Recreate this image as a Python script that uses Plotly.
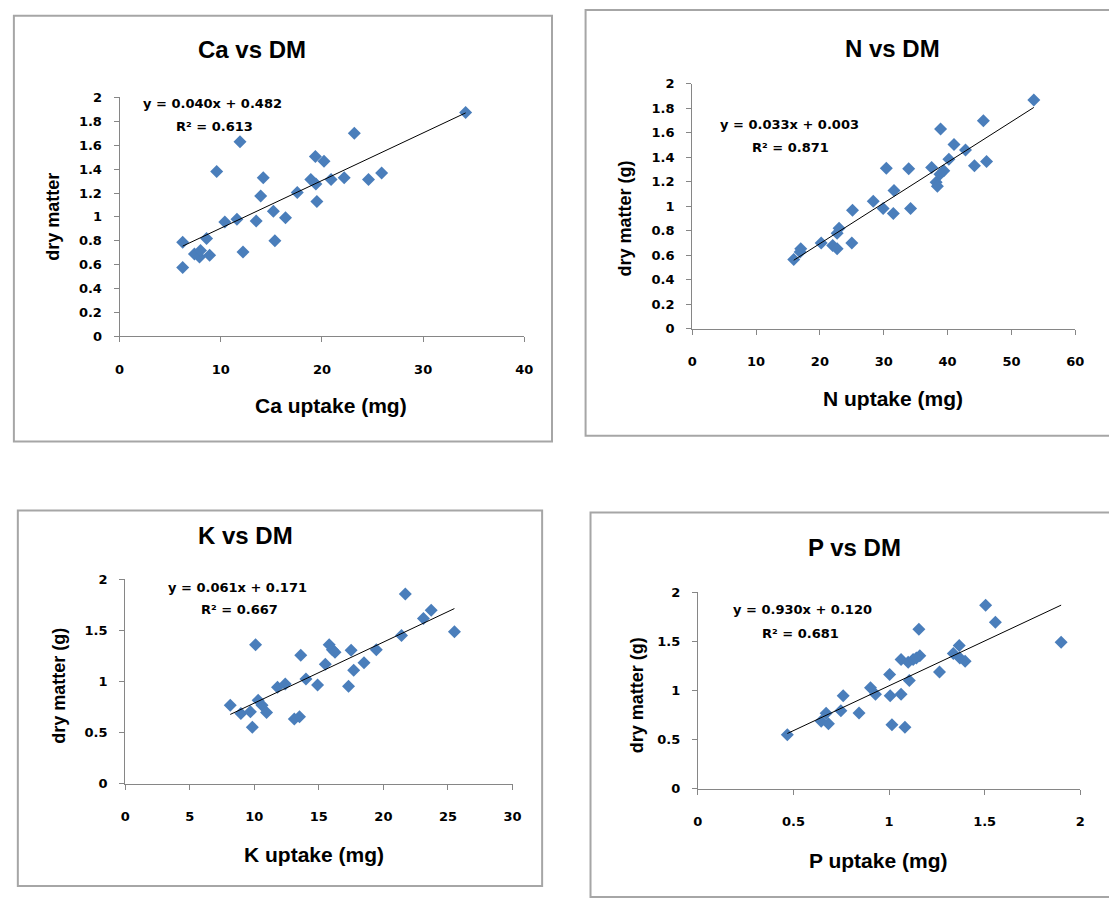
import numpy as np
import plotly.graph_objects as go

W, H = 1109, 898

# ---------------- data ----------------
ca_x = [34.2, 23.2, 11.9, 9.6, 19.35, 20.2, 14.2, 18.9, 19.4, 20.9, 22.2, 24.6, 25.9, 13.95, 17.56,
        19.5, 15.2, 16.4, 10.4, 11.6, 13.5, 15.35, 12.2, 6.24, 6.24, 8.6, 7.4, 7.9, 8.0, 8.9]
ca_y = [1.874, 1.70, 1.63, 1.38, 1.505, 1.466, 1.327, 1.313, 1.275, 1.313, 1.327, 1.313, 1.368, 1.176, 1.204,
        1.13, 1.048, 0.993, 0.958, 0.98, 0.966, 0.80, 0.706, 0.788, 0.577, 0.82, 0.69, 0.665, 0.72, 0.68]

n_x = [53.5, 45.6, 38.9, 41.0, 42.8, 40.2, 44.2, 46.1, 37.5, 39.4, 38.8, 38.2, 38.4, 30.4, 33.9,
       31.6, 28.35, 29.9, 31.5, 34.2, 25.1, 23.0, 22.7, 20.2, 22.0, 22.7, 25.0, 17.0, 16.9, 15.9]
n_y = [1.866, 1.697, 1.63, 1.503, 1.458, 1.383, 1.329, 1.364, 1.315, 1.289, 1.26, 1.195, 1.162, 1.31, 1.305,
       1.128, 1.039, 0.98, 0.94, 0.98, 0.966, 0.819, 0.778, 0.698, 0.679, 0.652, 0.698, 0.652, 0.625, 0.564]

k_x = [21.7, 23.7, 23.1, 25.5, 21.4, 10.1, 15.8, 16.05, 16.25, 17.5, 19.45, 13.6, 18.5, 15.5, 17.7,
       14.0, 14.9, 17.3, 11.8, 12.4, 10.3, 10.6, 10.95, 8.14, 8.96, 9.7, 9.85, 13.1, 13.5]
k_y = [1.856, 1.696, 1.616, 1.488, 1.45, 1.36, 1.36, 1.312, 1.286, 1.306, 1.312, 1.258, 1.184, 1.168, 1.11,
       1.024, 0.966, 0.954, 0.944, 0.976, 0.816, 0.768, 0.698, 0.768, 0.688, 0.704, 0.554, 0.634, 0.656]

p_x = [1.505, 1.556, 1.90, 1.156, 1.367, 1.336, 1.37, 1.398, 1.161, 1.063, 1.10, 1.126, 1.143, 1.264, 1.003,
       1.106, 0.903, 0.929, 1.006, 1.063, 0.76, 0.748, 0.843, 0.671, 0.645, 0.683, 1.015, 1.083, 0.468]
p_y = [1.866, 1.692, 1.49, 1.621, 1.457, 1.374, 1.33, 1.296, 1.353, 1.313, 1.286, 1.313, 1.33, 1.186, 1.162,
       1.10, 1.028, 0.961, 0.945, 0.961, 0.945, 0.794, 0.77, 0.767, 0.687, 0.66, 0.65, 0.626, 0.549]

titles = ["Ca vs DM", "N vs DM", "K vs DM", "P vs DM"]
x_titles = ["Ca uptake (mg)", "N uptake (mg)", "K uptake (mg)", "P uptake (mg)"]
y_titles = ["dry matter", "dry matter (g)", "dry matter (g)", "dry matter (g)"]
equations = ["y = 0.040x + 0.482", "y = 0.033x + 0.003", "y = 0.061x + 0.171", "y = 0.930x + 0.120"]
r2_texts = ["R² = 0.613", "R² = 0.871", "R² = 0.667", "R² = 0.681"]
x_ranges = [[0, 40], [0, 60], [0, 30], [0, 2]]
x_dticks = [10, 10, 5, 0.5]
y_dticks = [0.2, 0.2, 0.5, 0.5]

series = [(ca_x, ca_y), (n_x, n_y), (k_x, k_y), (p_x, p_y)]

# ---------------- layout geometry (pixels) ----------------
plot_px = [  # x0, x1, y_top, y_bottom
    (116, 526, 92, 335),
    (696, 1084, 78, 327),
    (121.7, 514, 582, 790),
    (701.7, 1089, 595, 795),
]
boxes = [(9, 554, 9, 442), (588, 1120, 3, 436), (13, 544, 512, 894), (593, 1120, 514, 905)]
title_pos = [(250, 43), (899, 42), (244, 537), (860, 550)]
xtitle_pos = [(330, 405), (899, 398), (313, 862), (884, 868)]
ytitle_pos = [(49, 213), (628, 215), (55, 690), (640, 700)]
eq_pos = [(210, 98), (795, 120), (235, 590), (808, 613)]
r2_pos = [(212, 122), (796, 143), (237, 613), (806, 637)]


def px(x):
    return x / W


def py(y):
    return 1 - y / H


fig = go.Figure()
BLUE = "#4A7EBB"
AXIS = "#868686"
tickfont = dict(family="DejaVu Sans", size=13, color="black", weight="bold")

annotations = []
shapes = []
for i, (xs, ys) in enumerate(series):
    ax = "" if i == 0 else str(i + 1)
    fig.add_trace(go.Scatter(
        x=xs, y=ys, mode="markers", xaxis="x" + ax, yaxis="y" + ax,
        marker=dict(symbol="diamond", size=10, color=BLUE, line=dict(width=0)),
        showlegend=False, cliponaxis=False))
    slope, icpt = np.polyfit(xs, ys, 1)
    lx = np.array([min(xs), max(xs)])
    fig.add_trace(go.Scatter(
        x=lx, y=slope * lx + icpt, mode="lines", xaxis="x" + ax, yaxis="y" + ax,
        line=dict(color="black", width=1), showlegend=False))

    x0, x1, yt, yb = plot_px[i]
    fig.layout["xaxis" + ax] = dict(
        domain=[px(x0), px(x1)], range=x_ranges[i], dtick=x_dticks[i], tick0=0,
        anchor="y" + ax, showline=True, linecolor=AXIS, linewidth=1,
        ticks="outside", ticklen=5, tickcolor=AXIS, showgrid=False, zeroline=False,
        tickfont=tickfont, ticklabelstandoff=16, fixedrange=True)
    fig.layout["yaxis" + ax] = dict(
        domain=[py(yb), py(yt)], range=[0, 2], dtick=y_dticks[i], tick0=0,
        anchor="x" + ax, showline=True, linecolor=AXIS, linewidth=1,
        ticks="outside", ticklen=5, tickcolor=AXIS, showgrid=False, zeroline=False,
        tickfont=tickfont, ticklabelstandoff=9, fixedrange=True)

    bx0, bx1, by0, by1 = boxes[i]
    shapes.append(dict(type="rect", xref="paper", yref="paper",
                       x0=px(bx0), x1=px(bx1), y0=py(by1), y1=py(by0),
                       line=dict(color="#A6A6A6", width=2), layer="below"))

    annotations.append(dict(text=titles[i], x=px(title_pos[i][0]), y=py(title_pos[i][1]),
                            xref="paper", yref="paper", showarrow=False,
                            xanchor="center", yanchor="middle",
                            font=dict(family="Liberation Sans", size=24, color="black", weight="bold")))
    annotations.append(dict(text=x_titles[i], x=px(xtitle_pos[i][0]), y=py(xtitle_pos[i][1]),
                            xref="paper", yref="paper", showarrow=False,
                            xanchor="center", yanchor="middle",
                            font=dict(family="Liberation Sans", size=21, color="black", weight="bold")))
    annotations.append(dict(text=y_titles[i], x=px(ytitle_pos[i][0]), y=py(ytitle_pos[i][1]),
                            xref="paper", yref="paper", showarrow=False, textangle=-90,
                            xanchor="center", yanchor="middle",
                            font=dict(family="Liberation Sans", size=18, color="black", weight="bold")))
    annotations.append(dict(text=equations[i], x=px(eq_pos[i][0]), y=py(eq_pos[i][1]),
                            xref="paper", yref="paper", showarrow=False,
                            xanchor="center", yanchor="middle",
                            font=dict(family="DejaVu Sans", size=13, color="black", weight="bold")))
    annotations.append(dict(text=r2_texts[i], x=px(r2_pos[i][0]), y=py(r2_pos[i][1]),
                            xref="paper", yref="paper", showarrow=False,
                            xanchor="center", yanchor="middle",
                            font=dict(family="DejaVu Sans", size=13, color="black", weight="bold")))

fig.update_layout(
    width=W, height=H, margin=dict(l=0, r=0, t=0, b=0),
    paper_bgcolor="white", plot_bgcolor="rgba(0,0,0,0)",
    annotations=annotations, shapes=shapes, showlegend=False)

fig.write_html("out.html", config={"displayModeBar": False})
